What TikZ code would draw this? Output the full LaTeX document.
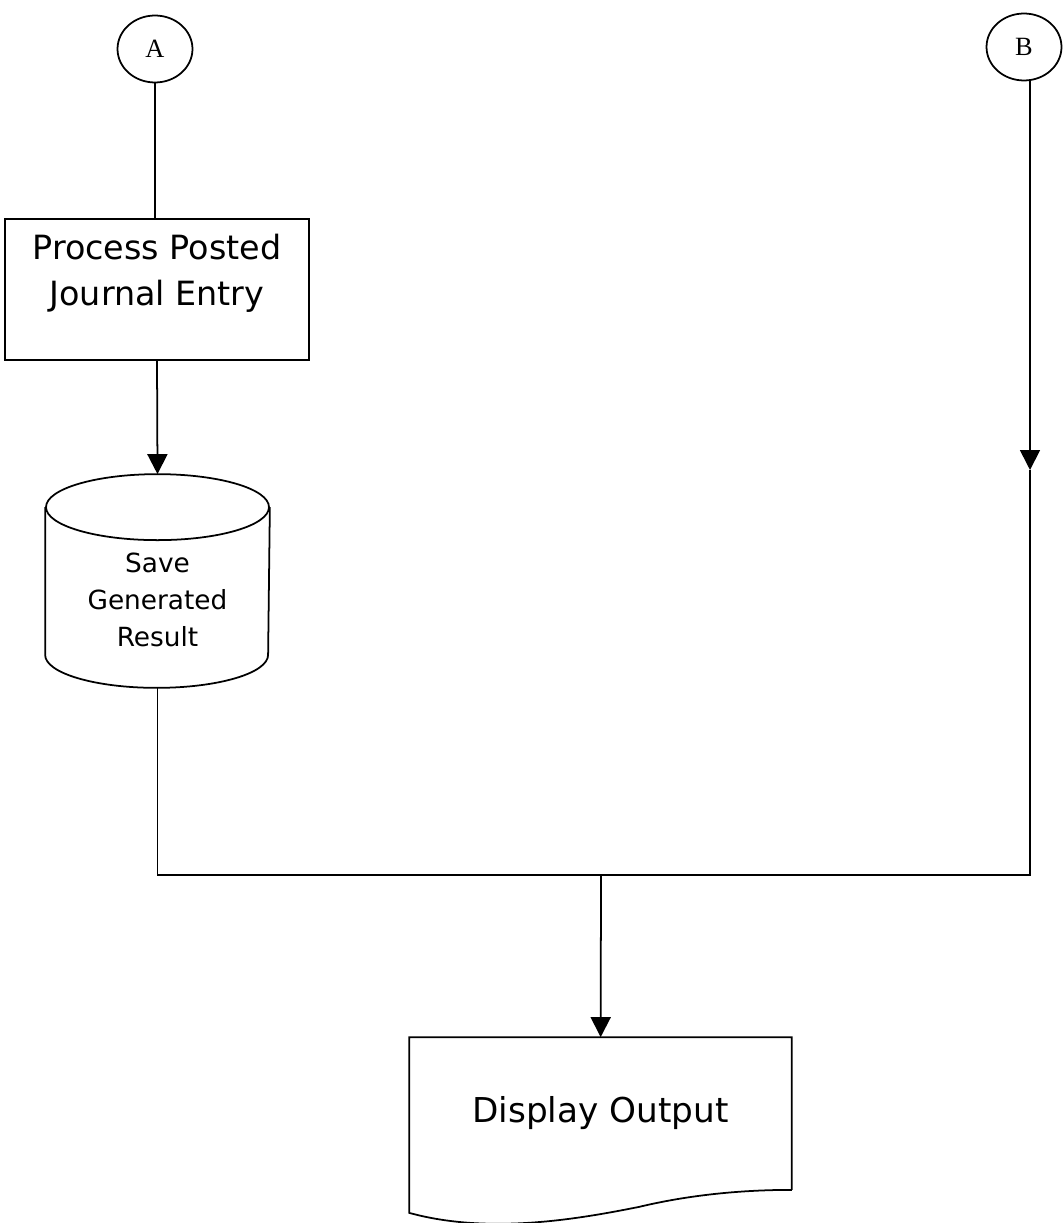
\documentclass[tikz,border=0pt]{standalone}
\usepackage{fontspec}
\setmainfont{Liberation Serif}
\setsansfont{DejaVu Sans}
\usetikzlibrary{arrows.meta, positioning, shapes.geometric}

\begin{document}
\begin{tikzpicture}[
    x=0.02cm, y=-0.02cm,
    line width=1pt,
    connector/.style={draw, ellipse, minimum width=1.5cm, minimum height=1.34cm, inner sep=0pt, font=\rmfamily\fontsize{15}{17}\selectfont},
    procbox/.style={draw, rectangle, minimum width=6.08cm, minimum height=2.82cm},
    storebody/.style={rectangle, minimum width=4.46cm, minimum height=2.92cm},
    docbox/.style={minimum width=7.62cm, minimum height=3.02cm, font=\sffamily\fontsize{19.5}{23}\selectfont},
    arrow/.style={-{Triangle[length=0.4cm, width=0.4cm]}}
]
    \useasboundingbox (0,0) rectangle (1064,1223);

    % off-page connectors
    \node[connector] (A) at (155,49) {A};
    \node[connector] (B) at (1024,47) {B};

    % left branch
    \node[procbox, label={[name=proctitle, yshift=0.32cm, align=center, font=\sffamily\fontsize{19}{26}\selectfont]center:Process Posted\\Journal Entry}] (proc) at (157,289.5) {};
    \node[storebody, label={[name=savetitle, yshift=-0.38cm, align=center, font=\sffamily\fontsize{15}{21}\selectfont]center:Save\\Generated\\Result}] (save) at (157.5,581) {};
    % the drum round the store
    \draw (save.north west) -- (save.south west)
        arc[start angle=180, end angle=360, x radius=2.23cm, y radius=0.66cm]
        -- (save.north east);
    \draw (save.north) ellipse[x radius=2.23cm, y radius=0.66cm];
    \coordinate (savetop) at ([yshift=0.66cm]save.north);
    \coordinate (savebot) at ([yshift=-0.66cm]save.south);

    % output document
    \node[docbox] (disp) at (600.5,1113.5) {Display Output};

    \coordinate (bmid)  at (1030,470);
    \coordinate (bjoin) at (1030,875);
    \coordinate (join)  at (601,875);

    \draw (A) -- (A |- proc.north);
    \draw[arrow] (proc.south) -- (savetop);
    \draw[arrow] (B.south -| bmid) -- (bmid);
    \draw (bmid) -- (bjoin) -- (savebot |- bjoin) -- (savebot);
    \draw[arrow] (join) -- (disp);

    \draw (disp.south east) -- (disp.north east) -- (disp.north west) -- ([yshift=-0.46cm]disp.south west)
        .. controls +(80,22) and +(-60,12) .. ++(230,-6)
        .. controls +(50,-12) and +(-50,0) .. (disp.south east);
\end{tikzpicture}
\end{document}
